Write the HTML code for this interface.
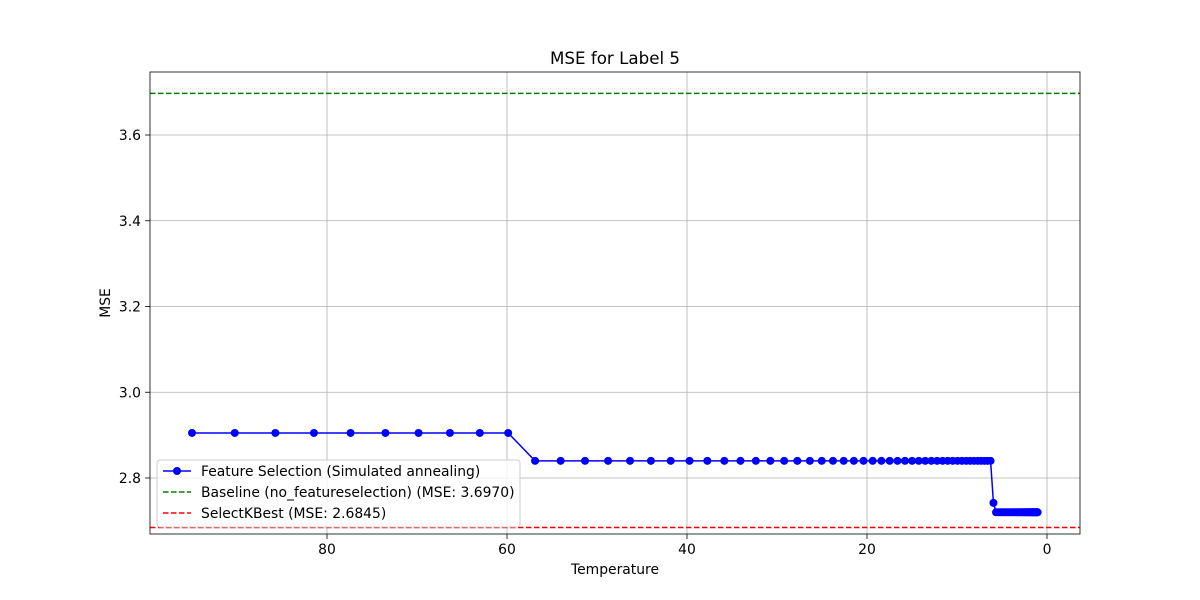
<!DOCTYPE html>
<html><head><meta charset="utf-8"><style>
html,body{margin:0;padding:0;background:#fff;}
svg{display:block;font-family:"DejaVu Sans","Liberation Sans",sans-serif;}
</style></head><body>
<svg id="chart" width="1200" height="600" xmlns="http://www.w3.org/2000/svg"></svg>
<script>
const temperatures = [95,90.25,85.74,81.45,77.38,73.51,69.83,66.34,63.02,59.87,56.88,54.04,51.33,48.77,46.33,44.01,41.81,39.72,37.74,35.85,34.06,32.35,30.74,29.20,27.74,26.35,25.03,23.78,22.59,21.46,20.39,19.37,18.40,17.48,16.61,15.78,14.99,14.24,13.53,12.85,12.21,11.60,11.02,10.47,9.94,9.45,8.97,8.53,8.10,7.69,7.31,6.94,6.60,6.27,5.95,5.66,5.37,5.10,4.85,4.61,4.38,4.16,3.95,3.75,3.56,3.39,3.22,3.06,2.90,2.76,2.62,2.49,2.37,2.25,2.13,2.03,1.93,1.83,1.74,1.65,1.57,1.49,1.42,1.35,1.28,1.21,1.15,1.10,1.04];
const mseValues = [2.905,2.905,2.905,2.905,2.905,2.905,2.905,2.905,2.905,2.905,
2.84,2.84,2.84,2.84,2.84,2.84,2.84,2.84,2.84,2.84,2.84,2.84,2.84,2.84,2.84,2.84,2.84,2.84,2.84,2.84,2.84,2.84,2.84,2.84,2.84,2.84,2.84,2.84,2.84,2.84,2.84,2.84,2.84,2.84,2.84,2.84,2.84,2.84,2.84,2.84,2.84,2.84,2.84,2.84,
2.742,
2.72,2.72,2.72,2.72,2.72,2.72,2.72,2.72,2.72,2.72,2.72,2.72,2.72,2.72,2.72,2.72,2.72,2.72,2.72,2.72,2.72,2.72,2.72,2.72,2.72,2.72,2.72,2.72,2.72,2.72,2.72,2.72,2.72,2.72];
const baselineMse = 3.697;
const selectKBestMse = 2.6845;
const xTicks = [80,60,40,20,0];
const yTicks = [2.8,3.0,3.2,3.4,3.6];

const L=150,R=1080,T=72,B=534;
function xs(v){return 1047-(v*9);}
function ys(v){return 478-(v-2.8)*428.75;}
const svg=document.getElementById('chart');
const NS='http://www.w3.org/2000/svg';
function mk(tag,attrs,parent){const e=document.createElementNS(NS,tag);for(const k in attrs)e.setAttribute(k,attrs[k]);(parent||svg).appendChild(e);return e;}

const title=mk('text',{x:615,y:64,'text-anchor':'middle','font-size':16.7});
title.textContent='MSE for Label 5';



const grid=mk('g',{});


xTicks.forEach(t=>{
  const x=xs(t);
  mk('line',{x1:x,x2:x,y1:T,y2:B,stroke:'#b0b0b0','stroke-width':0.8},grid);
  mk('line',{x1:x,x2:x,y1:B,y2:B+5,stroke:'#000','stroke-width':0.8});
  const tx=mk('text',{x:x,y:B+20,'text-anchor':'middle','font-size':13.9});
  tx.textContent=t;
  
  
});
yTicks.forEach(t=>{
  const y=ys(t);
  mk('line',{x1:L,x2:R,y1:y,y2:y,stroke:'#b0b0b0','stroke-width':0.8},grid);
  mk('line',{x1:L-5,x2:L,y1:y,y2:y,stroke:'#000','stroke-width':0.8});
  const tx=mk('text',{x:L-9,y:y+5,'text-anchor':'end','font-size':13.9});
  tx.textContent=t.toFixed(1);
  
  
});

const bl=mk('line',{x1:L,x2:R,y1:ys(baselineMse),y2:ys(baselineMse),stroke:'green','stroke-width':1.5,'stroke-dasharray':'5.5,2.5'});


const kb=mk('line',{x1:L,x2:R,y1:ys(selectKBestMse),y2:ys(selectKBestMse),stroke:'red','stroke-width':1.5,'stroke-dasharray':'5.5,2.5'});



const pts=temperatures.map((t,i)=>xs(t)+','+ys(mseValues[i])).join(' ');
const line=mk('polyline',{points:pts,fill:'none',stroke:'blue','stroke-width':1.5});


temperatures.forEach((t,i)=>{
  const c=mk('circle',{cx:xs(t),cy:ys(mseValues[i]),r:4,fill:'blue'});
  
  
});

const frame=mk('rect',{x:L,y:T,width:R-L,height:B-T,fill:'none',stroke:'#000','stroke-width':0.8});



const xl=mk('text',{x:615,y:574,'text-anchor':'middle','font-size':13.9});
xl.textContent='Temperature';


const yl=mk('text',{x:0,y:0,'text-anchor':'middle','font-size':13.9,transform:'translate(110,303) rotate(-90)'});
yl.textContent='MSE';



const lg=mk('g',{});


mk('rect',{x:157,y:460,width:363,height:67,rx:3,fill:'#fff','fill-opacity':0.8,stroke:'#ccc','stroke-width':1},lg);
const entries=[['Feature Selection (Simulated annealing)','blue',true,false],['Baseline (no_featureselection) (MSE: 3.6970)','green',false,true],['SelectKBest (MSE: 2.6845)','red',false,true]];
entries.forEach((e,i)=>{
  const y=471+i*21;
  const g=mk('g',{},lg);
  
  
  const a={x1:163,x2:191,y1:y,y2:y,stroke:e[1],'stroke-width':1.5};
  if(e[3])a['stroke-dasharray']='5.5,2.5';
  mk('line',a,g);
  if(e[2])mk('circle',{cx:177,cy:y,r:4,fill:e[1]},g);
  const tx=mk('text',{x:201,y:y+5,'font-size':13.9},g);
  tx.textContent=e[0];
});
</script>
</body></html>
